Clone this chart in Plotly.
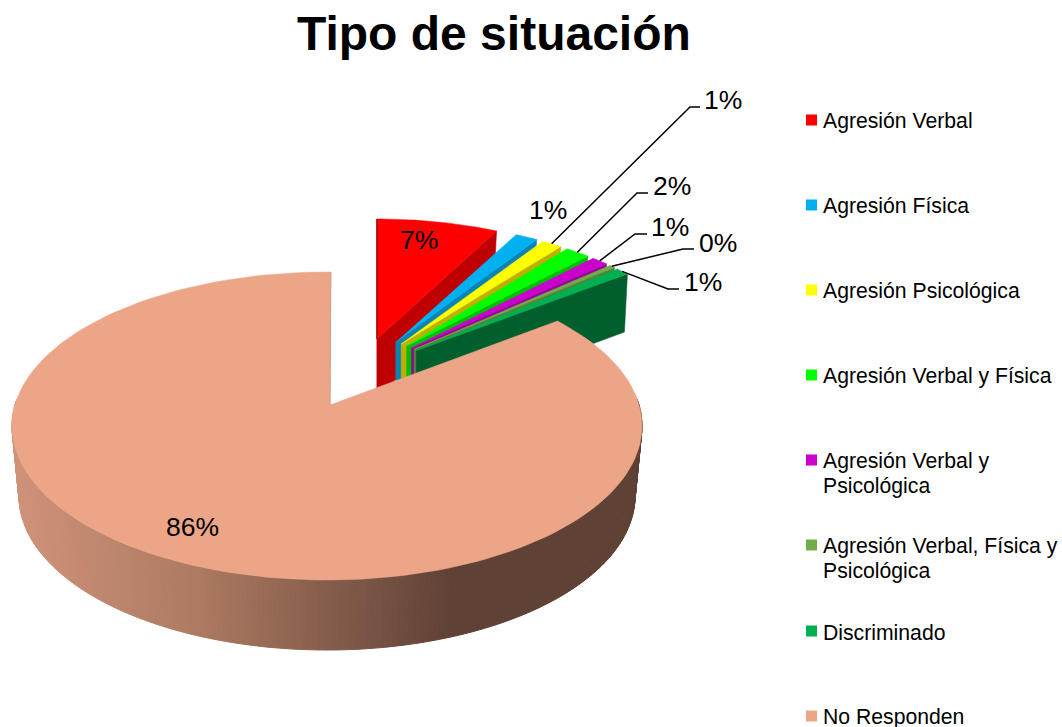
import numpy as np
import plotly.graph_objects as go

# ---- data -------------------------------------------------------------
categories = ["Agresión Verbal", "Agresión Física", "Agresión Psicológica",
              "Agresión Verbal y Física", "Agresión Verbal y<br>Psicológica",
              "Agresión Verbal, Física y<br>Psicológica", "Discriminado", "No Responden"]
values = [7.2, 1.4, 1.3, 1.6, 1.1, 0.45, 0.95, 86.0]
title = "Tipo de situación"
top_colors = ["#FF0000", "#00B0F0", "#FFFF00", "#00FF00", "#CC00CC", "#70AD47", "#00B050", "#ECA587"]
side_colors = ["#BF0000", "#0A84B4", "#BFB000", "#00BF00", "#99009A", "#54823A", "#005F2D", "#5F4235"]

# ---- projection of the exploded 3D pie ---------------------------------
FONT = "Liberation Sans, Arial, sans-serif"
BX, BY = 360, 375          # pie centre before explosion
EX, EY = 75, 37            # explosion offset
RX, RY = 274, 120          # far wedge radii
DEPTH = 58

cum = np.cumsum([0] + values) * 3.6
bis = (cum[:-1] + cum[1:]) / 2


def apex(i):
    t = np.radians(bis[i])
    return BX + EX * np.sin(t), BY - EY * np.cos(t)


def arc(i, a0=None, a1=None, n=30):
    ax, ay = apex(i)
    t = np.radians(np.linspace(cum[i] if a0 is None else a0, cum[i + 1] if a1 is None else a1, n))
    return ax + RX * np.sin(t), ay - RY * np.cos(t)


def poly(x, y, color, width=0.5):
    return go.Scatter(x=list(x), y=list(y), fill="toself", fillcolor=color, mode="lines",
                      line=dict(color=color, width=width), hoverinfo="skip", showlegend=False)


def edge(x, y, color, width=1.0):
    return go.Scatter(x=list(x), y=list(y), mode="lines", line=dict(color=color, width=width),
                      hoverinfo="skip", showlegend=False)


fig = go.Figure()

# small wedges, painter's order
n_small = len(values) - 1
for i in range(n_small):
    ax, ay = apex(i)
    ex, ey = arc(i)
    # radial side face at the end angle
    fig.add_trace(poly([ax, ex[-1], ex[-1] - 3, ax, ax], [ay, ey[-1], ey[-1] + DEPTH, ay + DEPTH, ay], side_colors[i]))
    # top face
    fig.add_trace(poly(np.r_[ax, ex, ax], np.r_[ay, ey, ay], top_colors[i]))
    if i == 0:
        fig.add_trace(edge([ax, ex[0]], [ay, ey[0]], "#7A0000", 1.0))

# large wedge
S = n_small
CX, CY, SRX, SRY = 327, 426, 315, 154      # top ellipse
BCY, BRX, BRY = 496, 308, 154              # bottom ellipse
SAX, SAY = 330, 405                        # apex
K = 1.0132                                 # perspective stretch of the sweep


def lerp_color(x):
    xs = [20, 200, 450, 640]
    rs = [(207, 146, 121), (173, 122, 98), (96, 66, 54), (95, 66, 53)]
    c = [np.interp(x, xs, [r[j] for r in rs]) for j in range(3)]
    return "rgb(%d,%d,%d)" % tuple(c)


ts = np.radians(np.arange(80, 280.5, 1.0))
for a, b in zip(ts[:-1], ts[1:]):
    xt = [CX + SRX * np.sin(a), CX + SRX * np.sin(b), CX + BRX * np.sin(b), CX + BRX * np.sin(a)]
    yt = [CY - SRY * np.cos(a), CY - SRY * np.cos(b), BCY - BRY * np.cos(b), BCY - BRY * np.cos(a)]
    fig.add_trace(poly(xt + xt[:1], yt + yt[:1], lerp_color(np.mean(xt)), 1))

t = np.radians(360.7 - (360 - np.linspace(cum[S], cum[S + 1], 160)) * K)
sx, sy = CX + SRX * np.sin(t), CY - SRY * np.cos(t)
fig.add_trace(poly(np.r_[SAX, sx, SAX], np.r_[SAY, sy, SAY], top_colors[S]))
fig.add_trace(edge([sx[-1], SAX], [sy[-1], SAY], "#C9A08C", 1.0))

# ---- labels -----------------------------------------------------------
pct = [f"{round(v)}%" for v in values]
anns = [dict(x=493.5, y=33, text=f"<b>{title}</b>", showarrow=False, xanchor="center", yanchor="middle",
             font=dict(family=FONT, size=48, color="#000000"))]

LABEL = 26.5
plain = {0: (419, 240), 1: (548, 210), 7: (192, 527)}
for i, (lx, ly) in plain.items():
    anns.append(dict(x=lx, y=ly, text=pct[i], showarrow=False, xanchor="center", yanchor="middle",
                     font=dict(family=FONT, size=LABEL, color="#000000")))

# leader labels: index -> elbow, elbow end, label centre
leaders = {2: ((690, 107), (700, 107), (723, 100)),
           3: ((637, 193), (648, 193), (672, 186)),
           4: ((635, 234), (647, 234), (670, 227)),
           5: ((683, 249), (694, 249), (718, 243)),
           6: ((668, 289), (679, 289), (703, 282))}
for i, (e1, e2, c) in leaders.items():
    mx, my = arc(i, bis[i], bis[i], 1)
    fig.add_trace(go.Scatter(x=[mx[0], e1[0], e2[0]], y=[my[0], e1[1], e2[1]], mode="lines",
                             line=dict(color="#000000", width=1.5), hoverinfo="skip", showlegend=False))
    anns.append(dict(x=c[0], y=c[1], text=pct[i], showarrow=False, xanchor="center", yanchor="middle",
                     font=dict(family=FONT, size=LABEL, color="#000000")))

# legend
leg_y = [120, 205, 290, 375, 460, 545, 631, 716]
fig.add_trace(go.Scatter(x=[811.5] * len(leg_y), y=leg_y, mode="markers", hoverinfo="skip", showlegend=False,
                         marker=dict(symbol="square", size=11, color=top_colors, line=dict(width=0))))
for name, ly in zip(categories, leg_y):
    for k, part in enumerate(name.split("<br>")):
        anns.append(dict(x=822, y=ly + 1 + 25 * k, text=part, showarrow=False, xanchor="left", yanchor="middle",
                         align="left", xshift=-1,
                         font=dict(family=FONT, size=21.2, color="#000000")))

fig.update_layout(
    width=1062, height=727, margin=dict(l=0, r=0, t=0, b=0), autosize=False,
    paper_bgcolor="#FFFFFF", plot_bgcolor="#FFFFFF", showlegend=False, annotations=anns,
    xaxis=dict(visible=False, range=[0, 1062], fixedrange=True),
    yaxis=dict(visible=False, range=[727, 0], fixedrange=True),
)
fig.write_html("out.html", config=dict(displayModeBar=False),
               post_script="document.body.style.margin='0';document.body.style.overflow='hidden';")
